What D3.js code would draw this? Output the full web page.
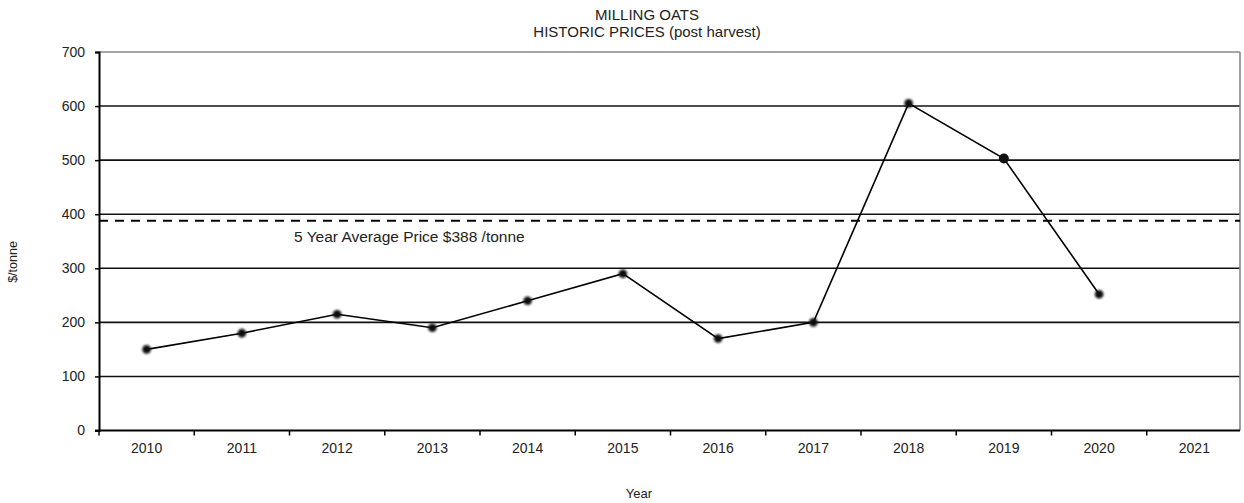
<!DOCTYPE html>
<html>
<head>
<meta charset="utf-8">
<script src="https://cdn.jsdelivr.net/npm/d3@7"></script>
<style>
  html, body { margin: 0; padding: 0; background: #fff; }
  svg text { font-family: "Liberation Sans", Arial, sans-serif; fill: #222; }
</style>
</head>
<body>
<svg id="chart" width="1244" height="503"></svg>
<script>
// Milling oats post-harvest prices ($/tonne)
const years = ["2010","2011","2012","2013","2014","2015","2016","2017","2018","2019","2020","2021"];
const prices = [150, 180, 215, 190, 240, 290, 170, 200, 605, 503, 252];
const yTicks = [0, 100, 200, 300, 400, 500, 600, 700];
const averagePrice = 388;
const averageLabel = "5 Year Average Price $388 /tonne";
const titleLines = ["MILLING OATS", "HISTORIC PRICES (post harvest)"];

const svg = d3.select("#chart");
const plotLeft = 99, plotRight = 1240, plotTop = 52, plotBottom = 430.5;

const x = d3.scaleBand().domain(years).range([plotLeft, 1242]);
const y = d3.scaleLinear().domain([0, 700]).range([plotBottom, plotTop]);

// soft blur for markers
const defs = svg.append("defs");
defs.append("filter").attr("id", "soft")
  .attr("x", "-50%").attr("y", "-50%").attr("width", "200%").attr("height", "200%")
  .append("feGaussianBlur").attr("stdDeviation", 0.9);

// horizontal gridlines
svg.append("g").selectAll("line")
  .data(yTicks.filter(d => d > 0))
  .join("line")
  .attr("x1", plotLeft).attr("x2", plotRight)
  .attr("y1", d => y(d)).attr("y2", d => y(d))
  .attr("stroke", d => d === 700 ? "#888" : "#111")
  .attr("stroke-width", 1.6);

// right border
svg.append("line")
  .attr("x1", plotRight).attr("x2", plotRight)
  .attr("y1", y(700)).attr("y2", plotBottom)
  .attr("stroke", "#888").attr("stroke-width", 1.6);

// y axis
const yAxis = svg.append("g")
  .attr("transform", `translate(${plotLeft},0)`)
  .call(d3.axisLeft(y).tickValues(yTicks).tickSize(4).tickPadding(10));
yAxis.select(".domain").attr("stroke", "#000").attr("stroke-width", 2);
yAxis.selectAll(".tick line").attr("stroke", "#000").attr("stroke-width", 1.5);
yAxis.selectAll("text").attr("font-size", 14).attr("fill", "#333");

// x axis: ticks at category boundaries
const xg = svg.append("g");
xg.append("line")
  .attr("x1", plotLeft - 4).attr("x2", plotRight)
  .attr("y1", plotBottom).attr("y2", plotBottom)
  .attr("stroke", "#000").attr("stroke-width", 2);
xg.selectAll("line.tk")
  .data(years)
  .join("line").attr("class", "tk")
  .attr("x1", d => x(d)).attr("x2", d => x(d))
  .attr("y1", plotBottom).attr("y2", plotBottom + 5)
  .attr("stroke", "#000").attr("stroke-width", 1.5);
xg.selectAll("text")
  .data(years)
  .join("text")
  .attr("x", d => x(d) + x.bandwidth() / 2)
  .attr("y", 453)
  .attr("text-anchor", "middle")
  .attr("font-size", 14)
  .attr("fill", "#333")
  .text(d => d);

// five-year average
svg.append("line")
  .attr("x1", plotLeft).attr("x2", plotRight)
  .attr("y1", y(averagePrice)).attr("y2", y(averagePrice))
  .attr("stroke", "#000").attr("stroke-width", 2)
  .attr("stroke-dasharray", "9,7");
svg.append("text")
  .attr("x", 294).attr("y", 242)
  .attr("font-size", 15.5)
  .attr("fill", "#333")
  .text(averageLabel);

// price line
const pts = prices.map((v, i) => ({ year: years[i], value: v }));
svg.append("path")
  .datum(pts)
  .attr("fill", "none")
  .attr("stroke", "#000")
  .attr("stroke-width", 1.6)
  .attr("d", d3.line()
    .x(d => x(d.year) + x.bandwidth() / 2)
    .y(d => y(d.value)));

svg.append("g").selectAll("circle")
  .data(pts)
  .join("circle")
  .attr("cx", d => x(d.year) + x.bandwidth() / 2)
  .attr("cy", d => y(d.value))
  .attr("r", d => d.year === "2019" ? 5 : 4.3)
  .attr("fill", "#111")
  .attr("filter", d => d.year === "2019" ? null : "url(#soft)");

// titles
svg.append("g").selectAll("text")
  .data(titleLines)
  .join("text")
  .attr("x", 647)
  .attr("y", (d, i) => 20 + i * 17)
  .attr("text-anchor", "middle")
  .attr("font-size", 15)
  .attr("fill", "#222")
  .text(d => d);

// axis titles
svg.append("text")
  .attr("x", 639).attr("y", 498)
  .attr("text-anchor", "middle")
  .attr("font-size", 13)
  .attr("fill", "#333")
  .text("Year");
svg.append("text")
  .attr("transform", "translate(17,262) rotate(-90)")
  .attr("text-anchor", "middle")
  .attr("font-size", 12.5)
  .attr("fill", "#333")
  .text("$/tonne");
</script>
</body>
</html>
